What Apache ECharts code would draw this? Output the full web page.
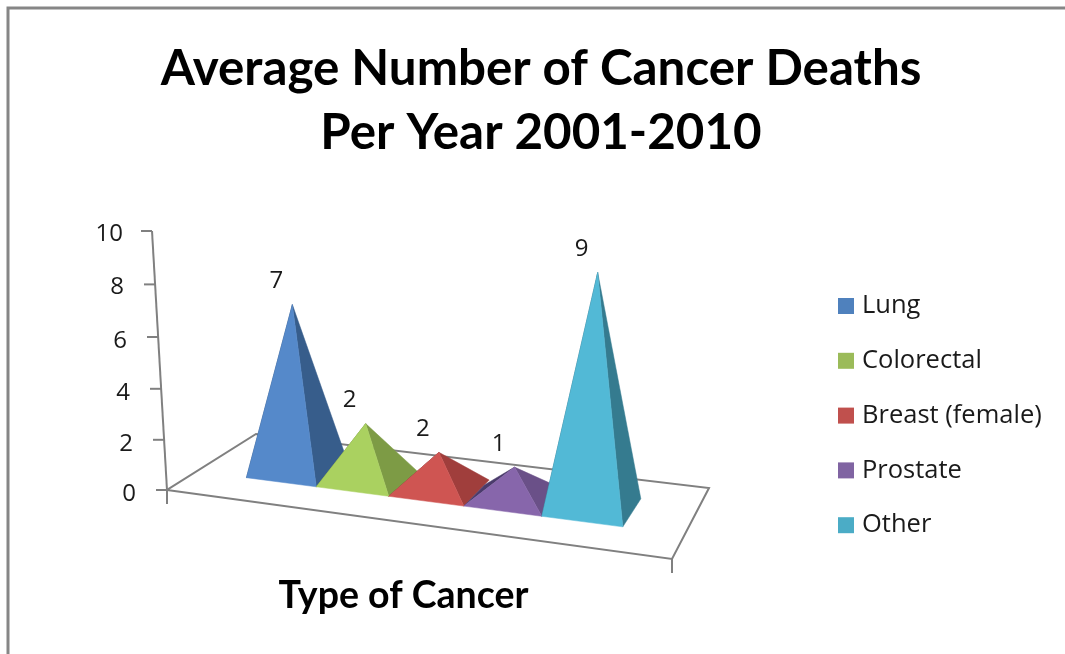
<!DOCTYPE html>
<html><head><meta charset="utf-8">
<style>html,body{margin:0;padding:0;background:#fff}#c{width:1065px;height:654px}</style>
<script src="https://cdn.jsdelivr.net/npm/echarts@6/dist/echarts.min.js"></script>
</head><body><div id="c"></div>
<script>
const categories = ['Lung','Colorectal','Breast (female)','Prostate','Other'];
const values = [6.5,2.25,1.5,1.3,9.2];
const tickValues = [0,2,4,6,8,10];
const legendColors = ['#4f81bd','#9bbb59','#c0504d','#8064a2','#4bacc6'];
const frontColors = ['#5589ca','#aad160','#cf5552','#8766ab','#52b9d6'];
const sideColors = ['#375d8b','#7d9b45','#a03e3c','#6a5088','#357b8f'];
const hiddenColors = ['#2c4a70','#64803a','#803230','#4a3b6b','#2b6373'];

const FONT = '"Open Sans", Lato, sans-serif';
const BOLD_FONT = 'Lato, "Open Sans", sans-serif';
const AXIS_COLOR = '#808080';
// floor quadrilateral, relative to the chart origin (x-axis start, value 0)
const FLOOR = {b:[505,69], c:[542,-2], d:[89,-56]};
const CLUSTER = {u0:0.113, u1:0.886, v0:0.31, v1:0.72, vLeft:0.64, vApex:0.465};
const LABEL_OFFSET = [-16,-23];
const den = (()=>{const f=FLOOR;const dx1=f.b[0]-f.c[0],dx2=f.d[0]-f.c[0],sx=-f.b[0]+f.c[0]-f.d[0],
  dy1=f.b[1]-f.c[1],dy2=f.d[1]-f.c[1],sy=-f.b[1]+f.c[1]-f.d[1],dd=dx1*dy2-dx2*dy1;
  return {g:(sx*dy2-dx2*sy)/dd,h:(dx1*sy-sx*dy1)/dd};})();
function project(org,u,v){
  const f=FLOOR,{g,h}=den,w=g*u+h*v+1;
  return [org[0]+((f.b[0]+g*f.b[0])*u+(f.d[0]+h*f.d[0])*v)/w,
          org[1]+((f.b[1]+g*f.b[1])*u+(f.d[1]+h*f.d[1])*v)/w];
}
function origin(api){const p=api.coord([0,0]);return [p[0]-api.size([1,0])[0]/2,p[1]];}
function poly(points,fill,stroke){
  return {type:'polygon',shape:{points},style:{fill,stroke:stroke||fill,lineWidth:stroke?2:0.5}};
}
function line(a,b){
  return {type:'line',shape:{x1:a[0],y1:a[1],x2:b[0],y2:b[1]},style:{stroke:AXIS_COLOR,lineWidth:2}};
}
function renderPyramid(s){
  return function(params,api){
    const org=origin(api),c=CLUSTER,du=(c.u1-c.u0)/categories.length;
    const u0=c.u0+s*du,u1=u0+du,h=api.size([0,api.value(1)])[1];
    const fl=project(org,u0,c.v0),fr=project(org,u1,c.v0),br=project(org,u1,c.v1),bl=project(org,u0,c.vLeft);
    const m=project(org,(u0+u1)/2,c.vApex);
    const lean=2.5+0.000159*(m[0]-445)*h;
    const apex=[m[0]+lean,m[1]-h];
    return {type:'group',children:[
      poly([fl,bl,apex],hiddenColors[s]),
      poly([fr,br,apex],sideColors[s]),
      poly([fl,fr,apex],frontColors[s]),
      {type:'text',style:{text:String(Math.round(api.value(1))),x:apex[0]+LABEL_OFFSET[0],y:apex[1]+LABEL_OFFSET[1],
        align:'center',verticalAlign:'middle',font:'24px '+FONT,fill:'#1a1a1a'}}
    ]};
  };
}
function renderFrame(params,api){
  const org=origin(api),f=FLOOR;
  const P=k=>[org[0]+k[0],org[1]+k[1]];
  const A=org,B=P(f.b),C=P(f.c),D=P(f.d);
  const kids=[poly([A,B,C,D],'#ffffff',AXIS_COLOR),
    line(A,[A[0],A[1]+14]),line(B,[B[0],B[1]+14])];
  const top=api.coord([0,10]);
  const axisX=v=>org[0]-15*v/10;
  kids.push(line([axisX(10),top[1]],A));
  tickValues.forEach(v=>{
    const y=api.coord([0,v])[1]+0.1*v*(10-v),x=axisX(v);
    kids.push(line([x-11,y],[x,y]));
  });
  return {type:'group',children:kids};
}
const labelPad={0:[8,0],2:[11,3],4:[13,6],6:[13,9],8:[9,12],10:[7,13]};
const rich={};
tickValues.forEach(v=>{rich['t'+v]={padding:[labelPad[v][0],labelPad[v][1],0,0],fontSize:24,fontFamily:FONT,color:'#1a1a1a'};});

const series=[{type:'custom',name:'floor',renderItem:renderFrame,data:[[0,0]],encode:{x:0,y:1},silent:true,z:1}];
categories.forEach((name,s)=>series.push({
  type:'custom',name,renderItem:renderPyramid(s),data:[[0,values[s]]],encode:{x:0,y:1},
  itemStyle:{color:legendColors[s]},silent:true,z:2+s
}));

const chart=echarts.init(document.getElementById('c'),null,{renderer:'canvas'});
chart.setOption({
  animation:false,backgroundColor:'#ffffff',
  title:{text:'Average Number of Cancer Deaths\nPer Year 2001-2010',left:536,top:32,textAlign:'center',
    textStyle:{fontFamily:BOLD_FONT,fontSize:49.3,fontWeight:'bold',color:'#000',lineHeight:64}},
  grid:{left:167,right:393,top:231,bottom:164},
  legend:{data:categories,orient:'vertical',left:833,top:288,itemWidth:16,itemHeight:16,itemGap:28.8,
    icon:'rect',selectedMode:false,textStyle:{fontFamily:FONT,fontSize:25.5,color:'#1a1a1a',lineHeight:25,padding:[0,0,0,3]}},
  xAxis:{type:'category',data:[''],axisLine:{show:false},axisTick:{show:false},axisLabel:{show:false},
    name:'Type of Cancer',nameLocation:'middle',nameGap:87,
    nameTextStyle:{fontFamily:BOLD_FONT,fontSize:37.5,fontWeight:'bold',color:'#000',padding:[0,32,0,0]}},
  yAxis:{type:'value',min:0,max:10,interval:2,splitLine:{show:false},axisLine:{show:false},axisTick:{show:false},
    axisLabel:{margin:31,formatter:v=>'{t'+v+'|'+v+'}',rich}},
  graphic:[{type:'rect',shape:{x:8,y:8,width:1100,height:700},style:{fill:'none',stroke:'#868686',lineWidth:3},silent:true,z:0}],
  series
});
</script></body></html>
